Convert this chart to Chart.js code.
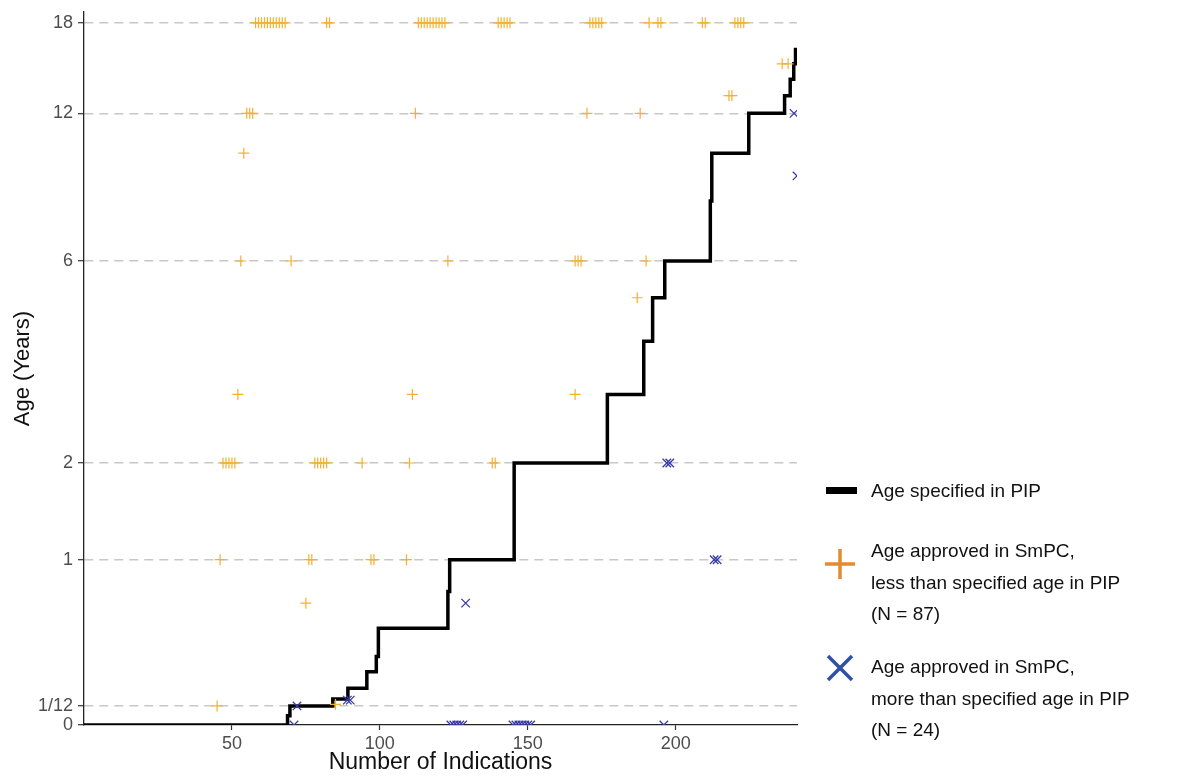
<!DOCTYPE html>
<html>
<head>
<meta charset="utf-8">
<script src="https://cdn.jsdelivr.net/npm/chart.js@4.4.1/dist/chart.umd.min.js"></script>
<style>
  body { margin: 0; background: #fff; font-family: "Liberation Sans", Arial, sans-serif; }
  #wrap { position: relative; width: 1179px; height: 776px; }
  #legend { position: absolute; left: 0; top: 0; width: 1179px; height: 776px; pointer-events: none; }
  .lt { position: absolute; left: 871px; font-size: 19px; color: #111; line-height: 31.5px; white-space: nowrap; }
</style>
</head>
<body>
<div id="wrap">
  <canvas id="myChart"></canvas>
  <div id="legend">
    <div style="position:absolute;left:826px;top:487px;width:31px;height:7px;background:#000"></div>
    <div class="lt" style="top:475px">Age specified in PIP</div>
    <svg style="position:absolute;left:824px;top:548px" width="32" height="32">
      <line x1="16" y1="1" x2="16" y2="31" stroke="#E58B2F" stroke-width="3.5"/>
      <line x1="1" y1="16" x2="31" y2="16" stroke="#E58B2F" stroke-width="3.5"/>
    </svg>
    <div class="lt" style="top:535px">Age approved in SmPC,<br>less than specified age in PIP<br>(N = 87)</div>
    <svg style="position:absolute;left:826px;top:654px" width="28" height="28">
      <line x1="2" y1="2" x2="26" y2="26" stroke="#2F50A3" stroke-width="3.5"/>
      <line x1="26" y1="2" x2="2" y2="26" stroke="#2F50A3" stroke-width="3.5"/>
    </svg>
    <div class="lt" style="top:651px">Age approved in SmPC,<br>more than specified age in PIP<br>(N = 24)</div>
  </div>
</div>
<script>
// age specified in PIP, step line (x = indication where the step starts)
var pipX   = [0, 68.8, 69.6, 84.1, 89.2, 95.6, 98.8, 99.5, 123.0, 123.6, 145.4, 176.9, 189.2, 192.2, 196.3, 211.7, 212.2, 224.7, 236.8, 238.7, 239.9, 240.5, 241];
var pipAge = [0, 0.04, 1/12, 0.115, 0.167, 0.25, 0.333, 0.5, 0.75, 1, 2, 3, 4, 5, 6, 8, 10, 12, 13, 14, 15, 16, 16];

// SmPC age less than PIP age (orange +)
var lessX = [58,59,60,61,62,63,64,65,66,67,68, 82,83, 113,114,115,116,117,118,119,120,121,122,
             140,141,142,143,144, 171,172,173,174,175, 191,194,195, 209,210, 220,221,222,223,
             236,238, 218,219, 55,56,57,112,170,188, 54,
             53,70,123,166,167,168,190, 187, 52,111,166,
             47,48,49,50,51, 78,79,80,81,82, 94,110,138,139,
             46,76,77,97,98,109, 75, 45, 85];
var lessAge = [18,18,18,18,18,18,18,18,18,18,18, 18,18, 18,18,18,18,18,18,18,18,18,18,
               18,18,18,18,18, 18,18,18,18,18, 18,18,18, 18,18, 18,18,18,18,
               15,15, 13,13, 12,12,12,12,12,12, 10,
               6,6,6,6,6,6,6, 5, 3,3,3,
               2,2,2,2,2, 2,2,2,2,2, 2,2,2,2,
               1,1,1,1,1,1, 0.667, 1/12, 0.09];

// SmPC age more than PIP age (blue x)
var moreX   = [240, 241, 197, 198, 213, 214, 129, 124,125,126,127,128, 145,146,147,148,149,150,151, 196, 72, 71, 89, 90];
var moreAge = [12, 9, 2, 2, 1, 1, 0.667, 0,0,0,0,0, 0,0,0,0,0,0,0, 0, 1/12, 0, 0.11, 0.11];

var xTicks = [50, 100, 150, 200];
var yTickAges = [0, 1/12, 1, 2, 6, 12, 18];
var yTickLabels = ['0', '1/12', '1', '2', '6', '12', '18'];

// y axis is log(age + 1)
function ageToY(a) { return Math.log(a + 1); }
function toPoints(xs, ages) {
  return xs.map(function(x, i) { return {x: x, y: ageToY(ages[i])}; });
}

var font = '"Liberation Sans", Arial, sans-serif';

var ctx = document.getElementById('myChart').getContext('2d');
var myChart = new Chart(ctx, {
  type: 'scatter',
  data: {
    datasets: [
      {
        type: 'line',
        label: 'Age specified in PIP',
        data: toPoints(pipX, pipAge),
        showLine: true,
        stepped: true,
        borderColor: '#000',
        borderWidth: 3.5,
        pointRadius: 0,
        fill: false,
        order: 3
      },
      {
        label: 'less',
        data: toPoints(lessX, lessAge),
        pointStyle: 'cross',
        pointRadius: 5.5,
        borderColor: 'rgb(247,175,50)',
        borderWidth: 1.2,
        clip: 0,
        order: 2
      },
      {
        label: 'more',
        data: toPoints(moreX, moreAge),
        pointStyle: 'crossRot',
        pointRadius: 6,
        borderColor: 'rgb(58,58,168)',
        borderWidth: 1.3,
        clip: 0,
        order: 1
      }
    ]
  },
  options: {
    responsive: true,
    maintainAspectRatio: false,
    animation: false,
    layout: { padding: { left: 0, top: 12, right: 382, bottom: 0 } },
    plugins: { legend: { display: false }, tooltip: { enabled: false } },
    scales: {
      x: {
        type: 'linear',
        min: 0,
        max: 241,
        afterBuildTicks: function(s) { s.ticks = xTicks.map(function(v) { return {value: v}; }); },
        afterFit: function(s) { s.height = 51; },
        ticks: { font: { family: font, size: 18 }, color: '#4d4d4d', padding: 3, maxRotation: 0 },
        grid: { drawOnChartArea: false, tickLength: 5, tickColor: '#333', tickWidth: 1.2 },
        border: { color: '#222', width: 1.3 },
        title: { display: true, text: 'Number of Indications', font: { family: font, size: 23 }, color: '#111', padding: { top: 0, bottom: 0 } }
      },
      y: {
        type: 'linear',
        min: 0,
        max: 2.99,
        afterBuildTicks: function(s) { s.ticks = yTickAges.map(function(a) { return {value: ageToY(a)}; }); },
        afterFit: function(s) { s.width = 84; s.paddingTop = 0; },
        ticks: {
          autoSkip: false,
          font: { family: font, size: 18 },
          color: '#4d4d4d',
          padding: 5,
          callback: function(v, i) { return yTickLabels[i]; }
        },
        grid: {
          color: function(c) { return c.tick && c.tick.value === 0 ? 'rgba(0,0,0,0)' : '#c8c8c8'; },
          lineWidth: 1.4,
          tickLength: 6,
          tickColor: '#333',
          tickWidth: 1.2
        },
        border: { color: '#222', width: 1.3, dash: [9, 6] },
        title: { display: true, text: 'Age (Years)', font: { family: font, size: 22 }, color: '#111', padding: { top: 10, bottom: 0 } }
      }
    }
  }
});
</script>
</body>
</html>
